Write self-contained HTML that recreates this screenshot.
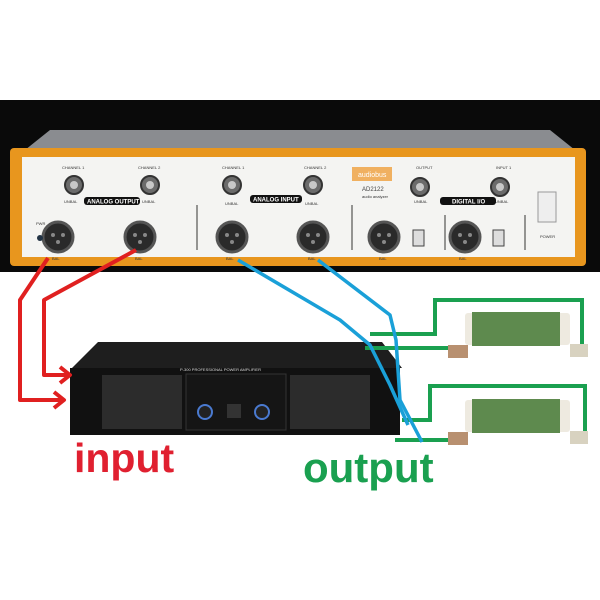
<!DOCTYPE html>
<html><head><meta charset="utf-8"><style>html,body{margin:0;padding:0;background:#fff}svg{display:block}</style></head>
<body>
<svg width="600" height="600" viewBox="0 0 600 600" xmlns="http://www.w3.org/2000/svg" font-family="Liberation Sans, sans-serif">
<rect width="600" height="600" fill="#fff"/>
<!-- analyzer -->
<rect x="0" y="100" width="600" height="172" fill="#0a0a0a"/>
<polygon points="50,130 550,130 575,150 25,150" fill="#8a8c90"/>
<rect x="10" y="148" width="576" height="118" rx="4" fill="#e8961e"/>
<rect x="22" y="157" width="553" height="100" fill="#f4f4f2"/>
<line x1="197" y1="205" x2="197" y2="250" stroke="#333" stroke-width="1"/>
<line x1="352" y1="205" x2="352" y2="250" stroke="#333" stroke-width="1"/>
<line x1="445" y1="215" x2="445" y2="250" stroke="#333" stroke-width="1"/>
<line x1="525" y1="215" x2="525" y2="250" stroke="#333" stroke-width="1"/>
<g font-size="4" fill="#333">
<text x="62" y="169">CHANNEL 1</text><text x="138" y="169">CHANNEL 2</text>
<text x="222" y="169">CHANNEL 1</text><text x="304" y="169">CHANNEL 2</text>
<text x="416" y="169">OUTPUT</text><text x="496" y="169">INPUT 1</text>
<text x="64" y="203">UNBAL</text><text x="142" y="203">UNBAL</text>
<text x="225" y="205">UNBAL</text><text x="305" y="205">UNBAL</text>
<text x="414" y="203">UNBAL</text><text x="495" y="203">UNBAL</text>
<text x="52" y="260">BAL</text><text x="135" y="260">BAL</text>
<text x="226" y="260">BAL</text><text x="308" y="260">BAL</text>
<text x="379" y="260">BAL</text><text x="459" y="260">BAL</text>
<text x="540" y="238">POWER</text><text x="36" y="225">PWR</text>
<text x="362" y="198">audio analyzer</text>
</g>
<g fill="#6b6b6b" stroke="#333" stroke-width="2">
<circle cx="74" cy="185" r="9"/><circle cx="150" cy="185" r="9"/>
<circle cx="232" cy="185" r="9"/><circle cx="313" cy="185" r="9"/>
<circle cx="420" cy="187" r="9"/><circle cx="500" cy="187" r="9"/>
</g>
<g fill="#c8c8c8"><circle cx="74" cy="185" r="4"/><circle cx="150" cy="185" r="4"/><circle cx="232" cy="185" r="4"/><circle cx="313" cy="185" r="4"/><circle cx="420" cy="187" r="4"/><circle cx="500" cy="187" r="4"/></g>
<rect x="84" y="197" width="56" height="8" rx="3" fill="#111"/><text x="87" y="203.5" font-size="6" font-weight="bold" fill="#fff">ANALOG OUTPUT</text>
<rect x="250" y="195" width="52" height="8" rx="3" fill="#111"/><text x="253" y="201.5" font-size="6" font-weight="bold" fill="#fff">ANALOG INPUT</text>
<rect x="440" y="197" width="56" height="8" rx="3" fill="#111"/><text x="452" y="203.5" font-size="6" font-weight="bold" fill="#fff">DIGITAL I/O</text>
<rect x="352" y="167" width="40" height="14" fill="#f0b060"/><text x="358" y="177" font-size="7" fill="#fff">audiobus</text>
<text x="362" y="191" font-size="6" fill="#444">AD2122</text>
<g fill="#2a2a2a" stroke="#555" stroke-width="3">
<circle cx="58" cy="237" r="15"/><circle cx="140" cy="237" r="15"/>
<circle cx="232" cy="237" r="15"/><circle cx="313" cy="237" r="15"/>
<circle cx="384" cy="237" r="15"/><circle cx="465" cy="237" r="15"/>
</g>
<g fill="#888"><circle cx="53" cy="235" r="2"/><circle cx="63" cy="235" r="2"/><circle cx="58" cy="242" r="2"/>
<circle cx="135" cy="235" r="2"/><circle cx="145" cy="235" r="2"/><circle cx="140" cy="242" r="2"/>
<circle cx="227" cy="235" r="2"/><circle cx="237" cy="235" r="2"/><circle cx="232" cy="242" r="2"/>
<circle cx="308" cy="235" r="2"/><circle cx="318" cy="235" r="2"/><circle cx="313" cy="242" r="2"/>
<circle cx="379" cy="235" r="2"/><circle cx="389" cy="235" r="2"/><circle cx="384" cy="242" r="2"/>
<circle cx="460" cy="235" r="2"/><circle cx="470" cy="235" r="2"/><circle cx="465" cy="242" r="2"/></g>
<rect x="413" y="230" width="11" height="16" fill="#ddd" stroke="#444"/><rect x="493" y="230" width="11" height="16" fill="#ddd" stroke="#444"/>
<circle cx="40" cy="238" r="3" fill="#234"/>
<rect x="538" y="192" width="18" height="30" fill="#eee" stroke="#999"/>
<!-- amplifier -->
<polygon points="98,342 382,342 402,368 72,368" fill="#1e1e1e"/>
<rect x="70" y="368" width="330" height="67" fill="#111"/>
<rect x="102" y="375" width="80" height="54" fill="#2c2c2c"/>
<rect x="290" y="375" width="80" height="54" fill="#2c2c2c"/>
<rect x="186" y="374" width="100" height="56" fill="#151515" stroke="#333"/>
<circle cx="205" cy="412" r="7" fill="#222" stroke="#4a7ad0" stroke-width="2"/>
<circle cx="262" cy="412" r="7" fill="#222" stroke="#4a7ad0" stroke-width="2"/>
<rect x="227" y="404" width="14" height="14" fill="#333"/>
<text x="180" y="371" font-size="4" fill="#ddd">P-300 PROFESSIONAL POWER AMPLIFIER</text>
<!-- red lines -->
<g fill="none" stroke="#e02020" stroke-width="4" stroke-linejoin="round">
<polyline points="48,258 20,300 20,400 62,400"/>
<polyline points="136,250 44,300 44,375 68,375"/>
<polyline points="54,392 64,400 54,408"/>
<polyline points="60,367 70,375 60,383"/>
</g>
<!-- green -->
<g fill="none" stroke="#1aa050" stroke-width="4">
<polyline points="370,334 435,334 435,300 582,300 582,345"/>
<polyline points="365,348 455,348"/>
<polyline points="402,420 430,420 430,386 585,386 585,432"/>
<polyline points="395,440 455,440"/>
</g>
<!-- resistors -->
<g>
<rect x="448" y="345" width="20" height="13" fill="#b89070"/>
<rect x="570" y="344" width="18" height="13" fill="#d8d2c0"/>
<rect x="465" y="313" width="105" height="32" rx="3" fill="#eeeae0"/>
<rect x="472" y="312" width="88" height="34" fill="#5e8a4e"/>
<rect x="448" y="432" width="20" height="13" fill="#b89070"/>
<rect x="570" y="431" width="18" height="13" fill="#d8d2c0"/>
<rect x="465" y="400" width="105" height="32" rx="3" fill="#eeeae0"/>
<rect x="472" y="399" width="88" height="34" fill="#5e8a4e"/>
</g>
<!-- blue -->
<g fill="none" stroke="#1aa0d8" stroke-width="3.5" stroke-linejoin="round">
<polyline points="238,260 340,320 370,345 390,385 408,425"/>
<polyline points="318,260 390,315 396,340 400,400 422,442"/>
</g>
<text x="74" y="472" font-size="41" font-weight="bold" fill="#e02030">input</text>
<text x="303" y="482" font-size="42" font-weight="bold" fill="#1aa050">output</text>
</svg>
</body></html>
